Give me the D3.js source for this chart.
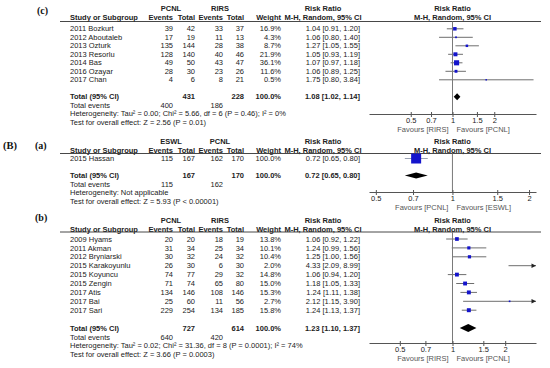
<!DOCTYPE html>
<html>
<head>
<meta charset="utf-8">
<script src="https://cdn.jsdelivr.net/npm/d3@7"></script>
<style>
html,body{margin:0;padding:0;background:#fff;}
svg text{font-family:"Liberation Sans",Arial,sans-serif;font-size:7.5px;fill:#222;}
svg text.lab{font-family:"Liberation Serif","Times New Roman",serif;font-weight:bold;fill:#111;}
</style>
</head>
<body>
<svg id="chart" width="550" height="368"></svg>
<script>
// ---- panel (c): PCNL vs RIRS
const studiesC = ["2011 Bozkurt","2012 Aboutaleb","2013 Ozturk","2013 Resorlu","2014 Bas","2016 Ozayar","2017 Chan"];
const ev1C = [39,17,135,128,49,28,4];
const tot1C = [42,19,144,140,50,30,6];
const ev2C = [33,11,28,40,43,23,8];
const tot2C = [37,13,38,46,47,26,21];
const weightC = [16.9,4.3,8.7,21.9,36.1,11.6,0.5];
const rrC = [1.04,1.06,1.27,1.05,1.07,1.06,1.75];
const loC = [0.91,0.80,1.05,0.93,0.97,0.89,0.80];
const hiC = [1.20,1.40,1.55,1.19,1.18,1.25,3.84];
const totalC = {n1:431, n2:228, e1:400, e2:186, rr:1.08, lo:1.02, hi:1.14};

// ---- panel (B)(a): ESWL vs PCNL
const studiesA = ["2015 Hassan"];
const ev1A = [115];
const tot1A = [167];
const ev2A = [162];
const tot2A = [170];
const weightA = [100.0];
const rrA = [0.72];
const loA = [0.65];
const hiA = [0.80];
const totalA = {n1:167, n2:170, e1:115, e2:162, rr:0.72, lo:0.65, hi:0.80};

// ---- panel (B)(b): PCNL vs RIRS
const studiesB = ["2009 Hyams","2011 Akman","2012 Bryniarski","2015 Karakoyunlu","2015 Koyuncu","2015 Zengin","2017 Atis","2017 Bai","2017 Sari"];
const ev1B = [20,31,30,26,74,71,134,25,229];
const tot1B = [20,34,32,30,77,74,146,60,254];
const ev2B = [18,25,24,6,29,65,108,11,134];
const tot2B = [19,34,32,30,32,80,146,56,185];
const weightB = [13.8,10.1,10.4,2.0,14.8,15.0,15.3,2.7,15.8];
const rrB = [1.06,1.24,1.25,4.33,1.06,1.18,1.24,2.12,1.24];
const loB = [0.92,0.99,1.00,2.09,0.94,1.05,1.11,1.15,1.13];
const hiB = [1.22,1.56,1.56,8.99,1.20,1.33,1.38,3.90,1.37];
const totalB = {n1:727, n2:614, e1:640, e2:420, rr:1.23, lo:1.10, hi:1.37};

const tickVals = [0.5, 0.7, 1, 1.5, 2];

const svg = d3.select("#chart");
svg.append("rect").attr("width",550).attr("height",368).attr("fill","#fff");

const fmtRR = d3.format(".2f");
const fmtW = d3.format(".1f");
const ciText = (r,l,h) => fmtRR(r) + " [" + fmtRR(l) + ", " + fmtRR(h) + "]";

function txt(g, x, y, s, anchor, bold) {
    return g.append("text")
        .attr("x", x).attr("y", y).attr("dy", "0.35em")
        .attr("text-anchor", anchor || "start")
        .attr("font-weight", bold ? "bold" : null)
        .text(s);
}

function forest(p) {
    const g = svg.append("g");
    const n = p.studies.length;
    const c = p.cols;
    const ry = d3.scaleLinear([0, 1], [p.y0, p.y0 + p.step]);
    const yTot = ry(n - 1) + 2 * p.step;
    const sx = d3.scaleLog(p.domain, [369, 536]);
    const x1 = sx(1);

    // headers
    txt(g, c.g1, p.yGroup, p.groups[0], "middle", true);
    txt(g, c.g2, p.yGroup, p.groups[1], "middle", true);
    txt(g, 323, p.yGroup, "Risk Ratio", "middle", true);
    txt(g, x1, p.yGroup, "Risk Ratio", "middle", true);
    txt(g, 70, p.yHead, "Study or Subgroup", "start", true);
    txt(g, c.ev1, p.yHead, "Events", "end", true);
    txt(g, c.tot1, p.yHead, "Total", "end", true);
    txt(g, c.ev2, p.yHead, "Events", "end", true);
    txt(g, c.tot2, p.yHead, "Total", "end", true);
    txt(g, c.w, p.yHead, "Weight", "end", true);
    txt(g, 323, p.yHead, "M-H, Random, 95% CI", "middle", true);
    txt(g, x1, p.yHead, "M-H, Random, 95% CI", "middle", true);
    g.append("line")
        .attr("x1", 60).attr("x2", 541)
        .attr("y1", p.yLine).attr("y2", p.yLine)
        .attr("stroke", "#333").attr("stroke-width", 0.9);

    // study rows
    const rows = d3.range(n).map(i => ({
        name: p.studies[i], e1: p.ev1[i], n1: p.tot1[i], e2: p.ev2[i], n2: p.tot2[i],
        w: p.weight[i], rr: p.rr[i], lo: p.lo[i], hi: p.hi[i], y: ry(i)
    }));
    const rg = g.selectAll(".row").data(rows).join("g").attr("class", "row");
    const cell = (x, anchor, f) => rg.append("text")
        .attr("x", x).attr("y", d => d.y).attr("dy", "0.35em")
        .attr("text-anchor", anchor).text(f);
    cell(70, "start", d => d.name);
    cell(c.ev1, "end", d => d.e1);
    cell(c.tot1, "end", d => d.n1);
    cell(c.ev2, "end", d => d.e2);
    cell(c.tot2, "end", d => d.n2);
    cell(c.w, "end", d => fmtW(d.w) + "%");
    cell(c.rr, "end", d => ciText(d.rr, d.lo, d.hi));

    // plot: reference line and axis
    const [dmin, dmax] = p.domain;
    g.append("line")
        .attr("x1", x1).attr("x2", x1)
        .attr("y1", p.yLine).attr("y2", p.axisY)
        .attr("stroke", "#7a7a7a").attr("stroke-width", 1);

    const axis = d3.axisBottom(sx).tickValues(tickVals)
        .tickFormat(d3.format("")).tickSize(3).tickSizeOuter(0);
    const ag = g.append("g").attr("transform", "translate(0," + p.axisY + ")").call(axis);
    ag.select(".domain").attr("stroke", "#555");
    ag.selectAll(".tick line").attr("stroke", "#555").attr("y1", -2);
    ag.selectAll(".tick text").attr("y", 3.5).attr("fill", "#333")
        .style("font-family", "Liberation Sans, Arial, sans-serif").style("font-size", "7.5px");
    txt(g, x1 - 4, p.axisY + 15, p.favours[0], "end").style("fill", "#555");
    txt(g, x1 + 4, p.axisY + 15, p.favours[1], "start").style("fill", "#555");

    // whiskers
    rg.append("line")
        .attr("x1", d => sx(Math.max(d.lo, dmin)))
        .attr("x2", d => sx(Math.min(d.hi, dmax)))
        .attr("y1", d => d.y).attr("y2", d => d.y)
        .attr("stroke", p.whisker).attr("stroke-width", 1);
    rg.filter(d => d.hi > dmax).append("path")
        .attr("d", d => {
            const xe = sx(dmax);
            return "M" + xe + "," + d.y + "L" + (xe - 4.5) + "," + (d.y - 2.3) +
                "L" + (xe - 4.5) + "," + (d.y + 2.3) + "Z";
        })
        .attr("fill", "#222");
    // squares
    const side = d => Math.max(1.5, p.sq * Math.sqrt(d.w));
    rg.filter(d => d.rr >= dmin && d.rr <= dmax).append("rect")
        .attr("x", d => sx(d.rr) - side(d) / 2)
        .attr("y", d => d.y - side(d) / 2)
        .attr("width", side)
        .attr("height", side)
        .attr("fill", "#1414cc");

    // totals
    const t = p.total;
    txt(g, 70, yTot, "Total (95% CI)", "start", true);
    txt(g, c.tot1, yTot, t.n1, "end", true);
    txt(g, c.tot2, yTot, t.n2, "end", true);
    txt(g, c.w, yTot, "100.0%", "end", true);
    txt(g, c.rr, yTot, ciText(t.rr, t.lo, t.hi), "end", true);
    txt(g, 70, yTot + p.step, "Total events");
    txt(g, c.ev1, yTot + p.step, t.e1, "end");
    txt(g, c.ev2, yTot + p.step, t.e2, "end");
    txt(g, 70, yTot + 2 * p.step, p.hetero);
    txt(g, 70, yTot + 3 * p.step, p.test);

    g.append("path")
        .datum(t)
        .attr("d", d => "M" + sx(d.lo) + "," + yTot + "L" + sx(d.rr) + "," + (yTot - p.dh) +
            "L" + sx(d.hi) + "," + yTot + "L" + sx(d.rr) + "," + (yTot + p.dh) + "Z")
        .attr("fill", "#000");
}

// panel labels
svg.append("text").attr("class", "lab").attr("x", 37).attr("y", 14).style("font-size", "10px").text("(c)");
svg.append("text").attr("class", "lab").attr("x", 3).attr("y", 148.5).style("font-size", "10.5px").text("(B)");
svg.append("text").attr("class", "lab").attr("x", 35).attr("y", 148.5).style("font-size", "10px").text("(a)");
svg.append("text").attr("class", "lab").attr("x", 35).attr("y", 220.5).style("font-size", "10px").text("(b)");

const colsMain = {g1: 171, g2: 220, ev1: 173, tot1: 195, ev2: 223, tot2: 244, w: 281, rr: 360};

forest({
    studies: studiesC, ev1: ev1C, tot1: tot1C, ev2: ev2C, tot2: tot2C,
    weight: weightC, rr: rrC, lo: loC, hi: hiC, total: totalC,
    groups: ["PCNL", "RIRS"], favours: ["Favours [RIRS]", "Favours [PCNL]"],
    hetero: "Heterogeneity: Tau\u00b2 = 0.00; Chi\u00b2 = 5.66, df = 6 (P = 0.46); I\u00b2 = 0%",
    test: "Test for overall effect: Z = 2.56 (P = 0.01)",
    cols: colsMain,
    yGroup: 8.5, yHead: 17.5, yLine: 21.5, y0: 28.8, step: 8.5,
    axisY: 114, domain: [0.25, 4], sq: 0.85, dh: 3.5, whisker: "#6e6e6e"
});

forest({
    studies: studiesA, ev1: ev1A, tot1: tot1A, ev2: ev2A, tot2: tot2A,
    weight: weightA, rr: rrA, lo: loA, hi: hiA, total: totalA,
    groups: ["ESWL", "PCNL"], favours: ["Favours [PCNL]", "Favours [ESWL]"],
    hetero: "Heterogeneity: Not applicable",
    test: "Test for overall effect: Z = 5.93 (P < 0.00001)",
    cols: colsMain,
    yGroup: 141.5, yHead: 150.5, yLine: 153.5, y0: 158.5, step: 8.5,
    axisY: 192, domain: [0.47, 2.13], sq: 1.0, dh: 3, whisker: "#9aa2b4"
});

forest({
    studies: studiesB, ev1: ev1B, tot1: tot1B, ev2: ev2B, tot2: tot2B,
    weight: weightB, rr: rrB, lo: loB, hi: hiB, total: totalB,
    groups: ["PCNL", "RIRS"], favours: ["Favours [RIRS]", "Favours [PCNL]"],
    hetero: "Heterogeneity: Tau\u00b2 = 0.02; Chi\u00b2 = 31.36, df = 8 (P = 0.0001); I\u00b2 = 74%",
    test: "Test for overall effect: Z = 3.66 (P = 0.0003)",
    cols: colsMain,
    yGroup: 220, yHead: 229, yLine: 232, y0: 239, step: 8.9,
    axisY: 343, domain: [1 / 3, 3], sq: 1.0, dh: 4, whisker: "#6e6e6e"
});
</script>
</body>
</html>
